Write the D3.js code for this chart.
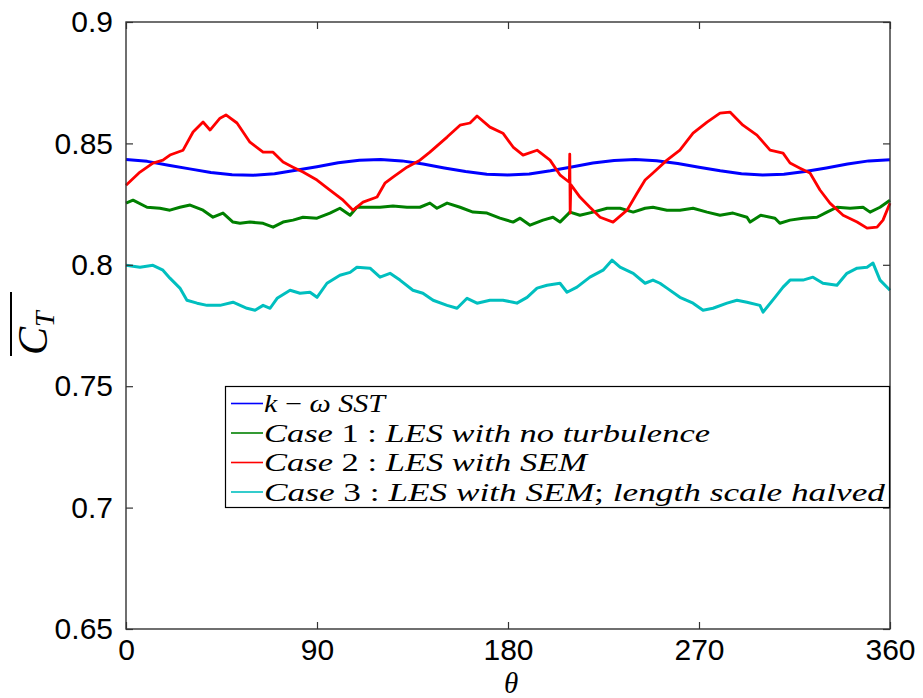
<!DOCTYPE html>
<html>
<head>
<meta charset="utf-8">
<script src="https://cdn.jsdelivr.net/npm/d3@7"></script>
<style>
  html, body { margin: 0; padding: 0; background: #fff; }
  svg { display: block; }
</style>
</head>
<body>
<svg id="chart" width="923" height="698"></svg>
<script>
// ---------------- data ----------------
const xTicks = [0, 90, 180, 270, 360];
const xTickLabels = ["0", "90", "180", "270", "360"];
const yTicks = [0.65, 0.7, 0.75, 0.8, 0.85, 0.9];
const yTickLabels = ["0.65", "0.7", "0.75", "0.8", "0.85", "0.9"];

const seriesNames = ["k-omega SST", "Case 1", "Case 2", "Case 3"];

// k-omega SST
const thetaSST = [0,10,20,30,40,50,60,70,80,90,100,110,120,130,140,150,160,170,180,190,200,210,220,230,240,250,260,270,280,290,300,310,320,330,340,350,360];
const sst = [0.8434,0.8426,0.8410,0.8395,0.8380,0.8371,0.8369,0.8375,0.8389,0.8404,0.8420,0.8431,0.8434,0.8428,0.8415,0.8399,0.8384,0.8373,0.8370,0.8374,0.8387,0.8403,0.8419,0.8430,0.8434,0.8429,0.8417,0.8402,0.8387,0.8375,0.8370,0.8373,0.8384,0.8399,0.8415,0.8428,0.8433];

// Case 1 : LES with no turbulence
const theta1 = [0,3.3,9.9,16,20.7,25.4,30.2,36.3,41,45.7,50.4,53.7,58.4,64.6,69.3,74,78.7,83.4,90,96.1,100.8,105.6,108.8,113.6,119.7,125.8,132.4,138.5,143.2,146.5,151.3,157.4,163.5,170.1,176.2,182.4,185.7,190.4,196.5,201.2,204.5,209.2,213.9,220.1,226.7,232.8,239,244.6,248.3,254.9,261,267.2,273.8,279.9,286,292.6,294.1,299.1,305.8,308.1,312.9,319,325.6,330.3,335,341.2,347.3,350.6,355.3,360];
const case1 = [0.8254,0.8266,0.8237,0.8233,0.8225,0.8237,0.8246,0.8225,0.8196,0.8213,0.8176,0.8171,0.8176,0.8171,0.8155,0.8176,0.8184,0.8196,0.8192,0.8213,0.8233,0.8204,0.8237,0.8237,0.8237,0.8242,0.8237,0.8237,0.8254,0.8233,0.8254,0.8237,0.8217,0.8213,0.8192,0.8176,0.8192,0.8163,0.8184,0.8196,0.8176,0.8217,0.8204,0.8217,0.8233,0.8233,0.8217,0.8233,0.8237,0.8225,0.8225,0.8233,0.8217,0.8204,0.8213,0.8196,0.8176,0.8204,0.8192,0.8171,0.8184,0.8192,0.8196,0.8217,0.8237,0.8233,0.8237,0.8217,0.8237,0.8266];

// Case 2 : LES with SEM
const theta2 = [0,6.6,12.7,17.4,20.7,26.9,31.6,36.3,39.6,44.3,47.1,52.3,58.4,64.6,69.3,74,78.7,83.4,90,96.1,102.3,107,111.7,118.3,122,125.8,132.4,138.5,143.2,151.3,157.4,162.1,165.4,171.5,177.6,182.4,187.1,193.7,199.8,204.6,208.9,209.1,209.3,209.6,213.9,218.6,223.4,229.5,236.1,240.8,244.6,248.3,254.9,261,267.2,273.8,279.9,284.6,290.7,297.3,303.5,309.6,312.9,317.6,322.3,327,331.7,337.9,344.5,349.2,353.9,356.7,360];
const case2 = [0.8328,0.8382,0.8419,0.8431,0.8452,0.8472,0.8547,0.8588,0.8555,0.8604,0.8617,0.8584,0.8505,0.8464,0.8464,0.8423,0.8402,0.8382,0.8349,0.8308,0.8266,0.8225,0.8258,0.8279,0.8336,0.8361,0.8402,0.8431,0.8464,0.8526,0.8575,0.8584,0.8613,0.8567,0.8542,0.8485,0.8452,0.8472,0.8431,0.8369,0.8340,0.8456,0.8213,0.8330,0.8279,0.8237,0.8196,0.8176,0.8225,0.8295,0.8349,0.8378,0.8431,0.8472,0.8542,0.8588,0.8625,0.8629,0.8575,0.8534,0.8472,0.8460,0.8419,0.8398,0.8378,0.8308,0.8254,0.8204,0.8176,0.8151,0.8155,0.8184,0.8254];

// Case 3 : LES with SEM; length scale halved
const theta3 = [0,6.6,12.7,17.4,20.7,25.4,28.7,33.5,38.2,44.3,50.4,57,60.8,64.6,67.9,71.2,77.3,82,86.7,90,94.7,100.8,105.6,108.8,115,119.7,124.4,129.1,135.2,139.9,144.7,151.3,156,160.7,165.4,171.5,177.6,182.4,184.2,189,193.7,198.4,204.5,207.8,212.5,218.6,224.8,229,232.8,239,244.6,248.3,251.6,254.9,261,267.2,271.9,276.6,283.2,287.9,292.6,298.7,300.2,305.8,309.6,312.9,319,323.7,328.4,335,339.7,344.5,349.2,352,355.3,360];
const case3 = [0.7998,0.7990,0.7998,0.7978,0.7945,0.7904,0.7854,0.7842,0.7833,0.7833,0.7846,0.7821,0.7813,0.7833,0.7821,0.7862,0.7895,0.7883,0.7887,0.7866,0.7924,0.7957,0.7969,0.7990,0.7986,0.7949,0.7965,0.7937,0.7895,0.7883,0.7854,0.7833,0.7821,0.7862,0.7842,0.7854,0.7854,0.7846,0.7842,0.7866,0.7904,0.7916,0.7924,0.7887,0.7908,0.7949,0.7978,0.8019,0.7990,0.7965,0.7924,0.7937,0.7924,0.7904,0.7866,0.7842,0.7813,0.7821,0.7842,0.7854,0.7846,0.7833,0.7805,0.7866,0.7908,0.7937,0.7937,0.7949,0.7924,0.7916,0.7965,0.7986,0.7990,0.8007,0.7937,0.7895];

const colors = ["#0000ff", "#008000", "#ff0000", "#00bfbf"];

// ---------------- layout ----------------
const svg = d3.select("#chart");
const L = 126, R = 890, T = 22, B = 629;
const x = d3.scaleLinear().domain([0, 360]).range([L, R]);
const y = d3.scaleLinear().domain([0.65, 0.9]).range([B, T]);

svg.append("rect").attr("width", 923).attr("height", 698).attr("fill", "#fff");

const tickFont = "'Liberation Sans', Arial, Helvetica, sans-serif";
const mathFont = "'Liberation Serif', 'Times New Roman', serif";

// series
const series = [
  {th: thetaSST, v: sst, w: 3},
  {th: theta1, v: case1, w: 3},
  {th: theta2, v: case2, w: 2.8},
  {th: theta3, v: case3, w: 3}
];
const line = d3.line().x(d => x(d[0])).y(d => y(d[1]));
const plot = svg.append("g");
series.forEach((s, i) => {
  const pts = s.th.map((t, k) => [t, s.v[k]]);
  plot.append("path")
    .attr("d", line(pts))
    .attr("fill", "none")
    .attr("stroke", colors[i])
    .attr("stroke-width", s.w)
    .attr("stroke-linejoin", "round");
});

// axes (inward ticks, box)
const axisColor = "#333";
const gxB = svg.append("g").attr("transform", `translate(0,${B})`)
  .call(d3.axisBottom(x).tickValues(xTicks).tickFormat((d, i) => xTickLabels[i]).tickSizeInner(-7).tickSizeOuter(0).tickPadding(10));
const gxT = svg.append("g").attr("transform", `translate(0,${T})`)
  .call(d3.axisTop(x).tickValues(xTicks).tickFormat("").tickSizeInner(-7).tickSizeOuter(0));
const gyL = svg.append("g").attr("transform", `translate(${L},0)`)
  .call(d3.axisLeft(y).tickValues(yTicks).tickFormat((d, i) => yTickLabels[i]).tickSizeInner(-7).tickSizeOuter(0).tickPadding(13));
const gyR = svg.append("g").attr("transform", `translate(${R},0)`)
  .call(d3.axisRight(y).tickValues(yTicks).tickFormat("").tickSizeInner(-7).tickSizeOuter(0));
[gxB, gxT, gyL, gyR].forEach(g => {
  g.select(".domain").remove();
  g.selectAll(".tick line").attr("stroke", axisColor).attr("stroke-width", 1.2);
  g.selectAll(".tick text").attr("fill", "#000").style("font-family", tickFont).style("font-size", "30px");
});
gxB.selectAll(".tick text").attr("dy", "0.71em");

svg.append("rect")
  .attr("x", L).attr("y", T).attr("width", R - L).attr("height", B - T)
  .attr("fill", "none").attr("stroke", axisColor).attr("stroke-width", 1.4);

// legend
const legendRows = [
  [["k", "i"], [" \u2212 ", "n"], ["\u03C9 SST", "i"]],
  [["Case ", "i"], ["1 : ", "n"], ["LES with no turbulence", "i"]],
  [["Case ", "i"], ["2 : ", "n"], ["LES with SEM", "i"]],
  [["Case ", "i"], ["3 : ", "n"], ["LES with SEM", "i"], ["; ", "n"], ["length scale halved", "i"]]
];
const legendWidths = [121, 446, 323, 621];
const lg = svg.append("g");
lg.append("rect").attr("x", 225.5).attr("y", 386.5).attr("width", 664).attr("height", 121)
  .attr("fill", "#fff").attr("stroke", "#000").attr("stroke-width", 1.2);
legendRows.forEach((row, i) => {
  const cy = 403.5 + i * 29.5;
  lg.append("line").attr("x1", 231).attr("x2", 263).attr("y1", cy).attr("y2", cy)
    .attr("stroke", colors[i]).attr("stroke-width", 1.6);
  const t = lg.append("text").attr("x", 264).attr("y", cy + 8.5)
    .style("font-family", mathFont).style("font-size", "25px").attr("fill", "#000")
    .attr("textLength", legendWidths[i]).attr("lengthAdjust", "spacingAndGlyphs");
  row.forEach(([s, st]) => {
    t.append("tspan").text(s).style("font-style", st === "i" ? "italic" : "normal");
  });
});

// axis titles
svg.append("text").attr("x", 511).attr("y", 693).attr("text-anchor", "middle")
  .style("font-family", mathFont).style("font-style", "italic").style("font-size", "29px")
  .text("\u03B8");

const yl = svg.append("g").attr("transform", "translate(47,325) rotate(-90)");
const ylt = yl.append("text").attr("x", -30).attr("y", 0)
  .style("font-family", mathFont).style("font-style", "italic").style("font-size", "42px");
ylt.append("tspan").text("C");
ylt.append("tspan").attr("dy", 7).style("font-size", "28px").text("T");
yl.append("line").attr("x1", -31).attr("x2", 33).attr("y1", -36).attr("y2", -36)
  .attr("stroke", "#000").attr("stroke-width", 2);
</script>
</body>
</html>
